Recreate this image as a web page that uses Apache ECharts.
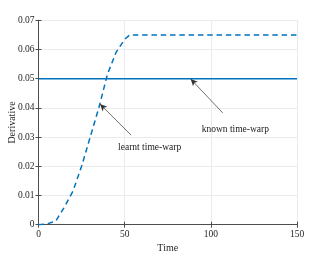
<!DOCTYPE html>
<html><head><meta charset="utf-8">
<script src="https://cdn.jsdelivr.net/npm/echarts@6/dist/echarts.min.js"></script>
<style>html,body{margin:0;padding:0;background:#fff}#c{width:332px;height:258px}</style>
</head><body><div id="c"></div>
<script>
const learntT = [0, 5, 10, 15, 20, 25, 30, 35, 40, 45, 50, 53, 150];
const learntV = [0, 0.0003, 0.0012, 0.006, 0.0115, 0.020, 0.030, 0.040, 0.0515, 0.059, 0.0635, 0.065, 0.065];
const knownT = [0, 150];
const knownV = [0.05, 0.05];
const xTicks = [0, 50, 100, 150];
const yTicks = ['0', '0.01', '0.02', '0.03', '0.04', '0.05', '0.06', '0.07'];
const labelLearnt = {text: 'learnt time-warp', at: [46.2, 0.0263], tail: [53.7, 0.0307], head: [35.7, 0.0413]};
const labelKnown = {text: 'known time-warp', at: [94.7, 0.0327], tail: [106.9, 0.0383], head: [88.3, 0.0499]};

const FONT = 'Liberation Serif';
const BLUE = '#0072BD';
const AX = '#4d4d4d';
const chart = echarts.init(document.getElementById('c'), null, {renderer: 'canvas'});
const axCommon = {
  axisLine: {show: true, lineStyle: {color: AX, width: 1}},
  axisTick: {show: true, inside: true, length: 3, lineStyle: {color: AX}},
  splitLine: {show: false}
};
chart.setOption({
  animation: false,
  grid: {left: 38.5, right: 35, top: 20.3, bottom: 33.3, containLabel: false, outerBoundsMode: 'none'},
  xAxis: [
    Object.assign({type: 'value', min: 0, max: 150, interval: 50, position: 'bottom',
      name: 'Time', nameLocation: 'middle', nameGap: 18.5, nameMoveOverlap: false,
      nameTextStyle: {fontFamily: FONT, fontSize: 10, color: '#262626'},
      axisLabel: {fontFamily: FONT, fontSize: 9.5, color: '#262626', margin: 5,
        formatter: v => String(xTicks[xTicks.indexOf(v)])}},
      axCommon, {splitLine: {show: true, lineStyle: {color: '#ebebeb', width: 1}}}),
    Object.assign({type: 'value', min: 0, max: 150, interval: 50, position: 'top',
      axisLabel: {show: false}}, axCommon)
  ],
  yAxis: [
    Object.assign({type: 'value', min: 0, max: 0.07, interval: 0.01, position: 'left',
      name: 'Derivative', nameLocation: 'middle', nameGap: 21, nameRotate: 90, nameMoveOverlap: false,
      nameTextStyle: {fontFamily: FONT, fontSize: 10, color: '#262626'},
      axisLabel: {fontFamily: FONT, fontSize: 9.5, color: '#262626', margin: 4,
        formatter: v => yTicks[Math.round(v * 100)]}},
      axCommon, {splitLine: {show: true, lineStyle: {color: '#ebebeb', width: 1}}}),
    Object.assign({type: 'value', min: 0, max: 0.07, interval: 0.01, position: 'right',
      axisLabel: {show: false}}, axCommon)
  ],
  series: [
    {type: 'line', name: 'known', data: knownT.map((t, i) => [t, knownV[i]]),
      showSymbol: false, lineStyle: {color: BLUE, width: 1.5}, z: 3,
      markLine: {silent: true, symbol: ['none', 'arrow'], symbolSize: [5, 7],
        lineStyle: {color: '#333', width: 0.7, type: 'solid'}, label: {show: false},
        data: [[{coord: labelKnown.tail}, {coord: labelKnown.head}],
               [{coord: labelLearnt.tail}, {coord: labelLearnt.head}]]},
      markPoint: {silent: true, symbol: 'circle', symbolSize: 0,
        label: {show: true, position: 'right', distance: 0, formatter: p => p.name,
          fontFamily: FONT, fontSize: 9.5, color: '#1a1a1a'},
        data: [{name: labelLearnt.text, coord: labelLearnt.at},
               {name: labelKnown.text, coord: labelKnown.at}]}},
    {type: 'line', name: 'learnt', data: learntT.map((t, i) => [t, learntV[i]]),
      showSymbol: false, lineStyle: {color: BLUE, width: 1.5, type: [5.5, 3.8]}, z: 4}
  ]
});
</script></body></html>
